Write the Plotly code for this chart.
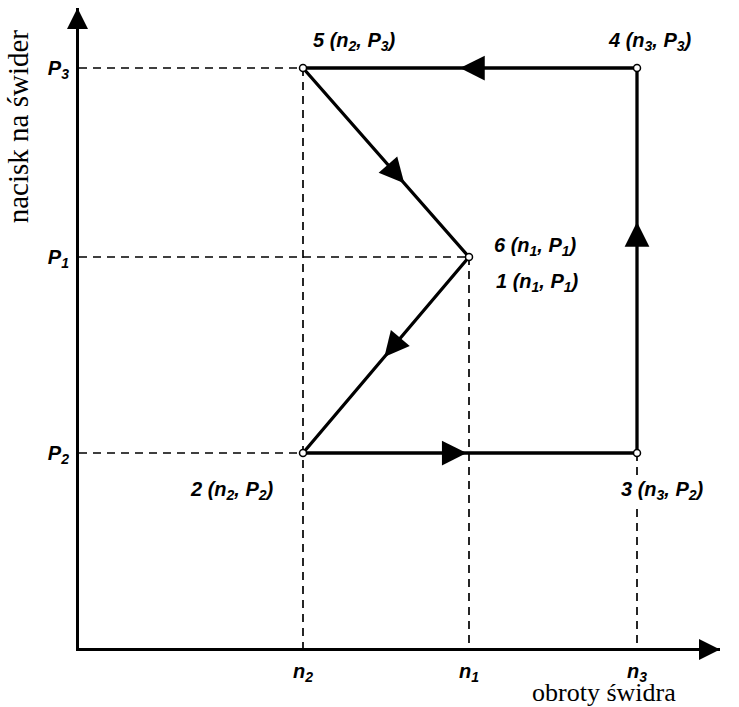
import plotly.graph_objects as go

# rotational speed values (x) and bit pressure values (y), in plot units
n_names = ['n<sub>2</sub>', 'n<sub>1</sub>', 'n<sub>3</sub>']
n_vals = [224, 390, 558]
p_names = ['P<sub>2</sub>', 'P<sub>1</sub>', 'P<sub>3</sub>']
p_vals = [195, 391, 580]

n2, n1, n3 = n_vals
P2, P1, P3 = p_vals

# control cycle 1 -> 2 -> 3 -> 4 -> 5 -> 6
cycle_x = [n1, n2, n3, n3, n2, n1]
cycle_y = [P1, P2, P2, P3, P3, P1]
cycle_labels = [
    '1 (n<sub>1</sub>, P<sub>1</sub>)',
    '2 (n<sub>2</sub>, P<sub>2</sub>)',
    '3 (n<sub>3</sub>, P<sub>2</sub>)',
    '4 (n<sub>3</sub>, P<sub>3</sub>)',
    '5 (n<sub>2</sub>, P<sub>3</sub>)',
    '6 (n<sub>1</sub>, P<sub>1</sub>)',
]

fig = go.Figure()

# dashed guide lines to the axes
guides = [
    (0, P3, n2, P3), (0, P1, n1, P1), (0, P2, n2, P2),
    (n2, P3, n2, 0), (n1, P1, n1, 0), (n3, P2, n3, 0),
]
gx, gy = [], []
for x0, y0, x1, y1 in guides:
    gx += [x0, x1, None]
    gy += [y0, y1, None]
fig.add_trace(go.Scatter(x=gx, y=gy, mode='lines',
                         line=dict(color='black', width=1.7, dash='8px,6px'),
                         hoverinfo='skip'))

# the cycle itself
fig.add_trace(go.Scatter(x=cycle_x, y=cycle_y, mode='lines',
                         line=dict(color='black', width=3.3),
                         hoverinfo='skip'))
fig.add_trace(go.Scatter(x=cycle_x[:5], y=cycle_y[:5], mode='markers',
                         marker=dict(size=7, color='white',
                                     line=dict(color='black', width=1.5)),
                         hoverinfo='skip'))

# direction arrows along each segment (fraction of the way to the tip)
tip_frac = [0.51, 0.49, 0.6, 0.53, 0.61]
for i, f in enumerate(tip_frac):
    xa, ya = cycle_x[i], cycle_y[i]
    xb, yb = cycle_x[i + 1], cycle_y[i + 1]
    tx, ty = xa + (xb - xa) * f, ya + (yb - ya) * f
    dx, dy = xb - xa, yb - ya
    ln = (dx ** 2 + dy ** 2) ** 0.5
    fig.add_annotation(x=tx, y=ty, ax=tx - dx / ln * 24, ay=ty - dy / ln * 24,
                       xref='x', yref='y', axref='x', ayref='y',
                       showarrow=True, arrowhead=2, arrowsize=1.5,
                       arrowwidth=3.3, arrowcolor='black', standoff=0, text='')

# point labels
lab_font = dict(family='Liberation Sans', size=20, color='black',
                weight='bold', style='italic')
lab_pos = [  # xanchor, xshift, yshift
    ('left', 26, -25),
    ('right', -28, -37),
    ('left', -17, -37),
    ('left', -30, 27),
    ('left', 9, 27),
    ('left', 24, 11),
]
for i, txt in enumerate(cycle_labels):
    xa, xs, ys = lab_pos[i]
    fig.add_annotation(x=cycle_x[i], y=cycle_y[i], text=txt, showarrow=False,
                       xanchor=xa, yanchor='middle', xshift=xs, yshift=ys,
                       font=lab_font, bgcolor='white', borderpad=0)

# axis arrowheads
fig.add_annotation(x=0, y=1, xref='paper', yref='paper', ax=0, ay=40,
                   xshift=-1.5, showarrow=True, arrowhead=2, arrowsize=1.4,
                   arrowwidth=3, arrowcolor='black', standoff=0, text='')
fig.add_annotation(x=1, y=0, xref='paper', yref='paper', ax=-40, ay=0,
                   yshift=-1.5, showarrow=True, arrowhead=2, arrowsize=1.4,
                   arrowwidth=3, arrowcolor='black', standoff=0, text='')

# axis titles
fig.add_annotation(x=-0.095, y=0.97, xref='paper', yref='paper',
                   text='nacisk na świder', textangle=-90, showarrow=False,
                   xanchor='center', yanchor='top',
                   font=dict(family='Liberation Serif', size=29, color='black'))
fig.add_annotation(x=0.819, y=-0.07, xref='paper', yref='paper',
                   text='obroty świdra', showarrow=False,
                   xanchor='center', yanchor='middle', borderpad=0,
                   font=dict(family='Liberation Serif', size=26, color='black'))

tick_font = dict(family='Liberation Sans', size=20, color='black',
                 weight='bold', style='italic')
fig.update_layout(
    width=739, height=707,
    margin=dict(l=79, r=19, t=8, b=59, autoexpand=False),
    paper_bgcolor='white', plot_bgcolor='white',
    showlegend=False,
    xaxis=dict(range=[0, 641], tickvals=n_vals, ticktext=n_names,
               showline=True, linewidth=3, linecolor='black',
               showgrid=False, zeroline=False, ticks='', automargin=False,
               tickfont=tick_font, ticklabelstandoff=3),
    yaxis=dict(range=[0, 640], tickvals=p_vals, ticktext=p_names,
               showline=True, linewidth=3, linecolor='black',
               showgrid=False, zeroline=False, ticks='', automargin=False,
               tickfont=tick_font, ticklabelstandoff=3),
)

fig.write_html('out.html', config={'displayModeBar': False},
               post_script="document.body.style.margin='0';")
